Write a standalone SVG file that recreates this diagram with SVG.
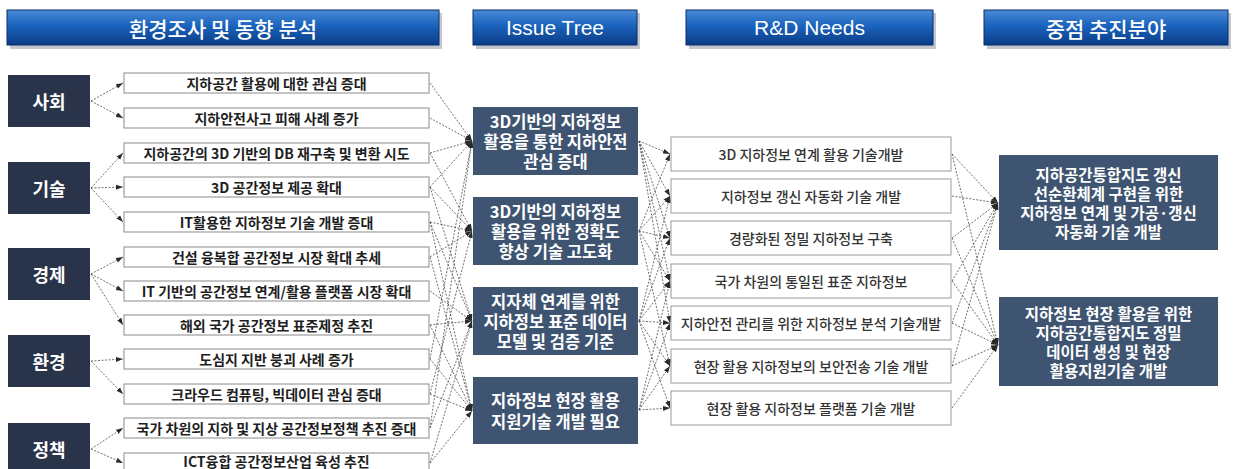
<svg xmlns="http://www.w3.org/2000/svg" width="1234" height="469" viewBox="0 0 1234 469">
<defs>
<linearGradient id="hg" x1="0" y1="0" x2="0" y2="1">
<stop offset="0" stop-color="#4a8ad6"/>
<stop offset="0.45" stop-color="#1a63bd"/>
<stop offset="1" stop-color="#0b3c86"/>
</linearGradient>
<marker id="ah" markerWidth="8" markerHeight="6" refX="7" refY="3" orient="auto" markerUnits="userSpaceOnUse">
<path d="M0,0.5 L7,3 L0,5.5 z" fill="#2a2a2a"/>
</marker>
<style>
.hdr{fill:url(#hg);stroke:#0a2f6a;stroke-width:1}
.hsh{fill:#9aa3ad;opacity:0.6}
.ht{font-family:"Noto Sans CJK KR","Noto Sans",sans-serif;font-size:21px;font-weight:500;fill:#fff;text-anchor:middle;dominant-baseline:central}
.hte{font-family:"Liberation Sans",Arial,sans-serif;font-size:21px;fill:#fff;text-anchor:middle;dominant-baseline:central}
.cat{fill:#29334a}
.ct{font-family:"Noto Sans CJK KR",sans-serif;font-size:18px;font-weight:700;fill:#fff;text-anchor:middle;dominant-baseline:central}
.it{fill:#fff;stroke:#8a8a8a;stroke-width:1}
.itt{font-family:"Noto Sans CJK KR",sans-serif;font-size:14px;font-weight:700;fill:#1e1e1e;text-anchor:middle;dominant-baseline:central}
.iss{fill:#3e5471}
.ist{font-family:"Noto Sans CJK KR",sans-serif;font-size:16.5px;font-weight:700;fill:#fff;text-anchor:middle;dominant-baseline:central}
.rd{fill:#fff;stroke:#9a9a9a;stroke-width:1}
.rdt{font-family:"Noto Sans CJK KR",sans-serif;font-size:14px;font-weight:500;fill:#333;text-anchor:middle;dominant-baseline:central}
.fc{fill:#3e5471}
.fct{font-family:"Noto Sans CJK KR",sans-serif;font-size:15.5px;font-weight:700;fill:#fff;text-anchor:middle;dominant-baseline:central}
.cn line{stroke:#4a4a4a;stroke-width:0.8;stroke-dasharray:2 1.5;fill:none;marker-end:url(#ah)}
</style>
</defs>
<rect width="1234" height="469" fill="#fff"/>

<!-- headers -->
<g id="h1"><rect class="hsh" x="10" y="13" width="432" height="36"/><rect class="hdr" x="7" y="10" width="432" height="35"/><text class="ht" x="223" y="27.5">환경조사 및 동향 분석</text></g>
<g id="h2"><rect class="hsh" x="476" y="13" width="164" height="36"/><rect class="hdr" x="473" y="10" width="164" height="35"/><text class="hte" x="555" y="27.5">Issue Tree</text></g>
<g id="h3"><rect class="hsh" x="689" y="13" width="247" height="36"/><rect class="hdr" x="686" y="10" width="247" height="35"/><text class="hte" x="809.5" y="27.5">R&amp;D Needs</text></g>
<g id="h4"><rect class="hsh" x="987" y="13" width="244" height="36"/><rect class="hdr" x="984" y="10" width="244" height="35"/><text class="ht" x="1106" y="27.5">중점 추진분야</text></g>

<!-- connectors -->
<g id="connectors" class="cn">
<!-- category -> items -->
<line x1="91" y1="101" x2="123" y2="83"/>
<line x1="91" y1="101" x2="123" y2="118"/>
<line x1="91" y1="188" x2="123" y2="153"/>
<line x1="91" y1="188" x2="123" y2="187"/>
<line x1="91" y1="188" x2="123" y2="222"/>
<line x1="91" y1="274" x2="123" y2="257"/>
<line x1="91" y1="274" x2="123" y2="291"/>
<line x1="91" y1="274" x2="123" y2="325"/>
<line x1="91" y1="361" x2="123" y2="359"/>
<line x1="91" y1="361" x2="123" y2="394"/>
<line x1="91" y1="449" x2="123" y2="428"/>
<line x1="91" y1="449" x2="123" y2="463"/>
<!-- items -> issue -->
<line x1="430" y1="83" x2="472" y2="141"/>
<line x1="430" y1="118" x2="472" y2="141"/>
<line x1="430" y1="153" x2="472" y2="141"/>
<line x1="430" y1="187" x2="472" y2="141"/>
<line x1="430" y1="359" x2="472" y2="141"/>
<line x1="430" y1="428" x2="472" y2="141"/>
<line x1="430" y1="153" x2="472" y2="231"/>
<line x1="430" y1="187" x2="472" y2="231"/>
<line x1="430" y1="222" x2="472" y2="231"/>
<line x1="430" y1="257" x2="472" y2="231"/>
<line x1="430" y1="394" x2="472" y2="231"/>
<line x1="430" y1="187" x2="472" y2="321"/>
<line x1="430" y1="222" x2="472" y2="321"/>
<line x1="430" y1="291" x2="472" y2="321"/>
<line x1="430" y1="325" x2="472" y2="321"/>
<line x1="430" y1="428" x2="472" y2="321"/>
<line x1="430" y1="463" x2="472" y2="321"/>
<line x1="430" y1="222" x2="472" y2="411"/>
<line x1="430" y1="257" x2="472" y2="411"/>
<line x1="430" y1="325" x2="472" y2="411"/>
<line x1="430" y1="359" x2="472" y2="411"/>
<line x1="430" y1="394" x2="472" y2="411"/>
<line x1="430" y1="463" x2="472" y2="411"/>
<!-- issue -> R&D -->
<line x1="639" y1="141" x2="670" y2="154"/>
<line x1="639" y1="141" x2="670" y2="196"/>
<line x1="639" y1="141" x2="670" y2="238"/>
<line x1="639" y1="141" x2="670" y2="281"/>
<line x1="639" y1="141" x2="670" y2="323"/>
<line x1="639" y1="231" x2="670" y2="154"/>
<line x1="639" y1="231" x2="670" y2="196"/>
<line x1="639" y1="231" x2="670" y2="238"/>
<line x1="639" y1="231" x2="670" y2="281"/>
<line x1="639" y1="231" x2="670" y2="366"/>
<line x1="639" y1="321" x2="670" y2="196"/>
<line x1="639" y1="321" x2="670" y2="238"/>
<line x1="639" y1="321" x2="670" y2="281"/>
<line x1="639" y1="321" x2="670" y2="323"/>
<line x1="639" y1="321" x2="670" y2="366"/>
<line x1="639" y1="321" x2="670" y2="408"/>
<line x1="639" y1="410" x2="670" y2="281"/>
<line x1="639" y1="410" x2="670" y2="323"/>
<line x1="639" y1="410" x2="670" y2="366"/>
<line x1="639" y1="410" x2="670" y2="408"/>
<!-- R&D -> focus -->
<line x1="952" y1="154" x2="998" y2="203"/>
<line x1="952" y1="196" x2="998" y2="203"/>
<line x1="952" y1="238" x2="998" y2="203"/>
<line x1="952" y1="281" x2="998" y2="203"/>
<line x1="952" y1="323" x2="998" y2="203"/>
<line x1="952" y1="366" x2="998" y2="203"/>
<line x1="952" y1="154" x2="998" y2="345"/>
<line x1="952" y1="238" x2="998" y2="345"/>
<line x1="952" y1="281" x2="998" y2="345"/>
<line x1="952" y1="323" x2="998" y2="345"/>
<line x1="952" y1="366" x2="998" y2="345"/>
<line x1="952" y1="408" x2="998" y2="345"/>
</g>

<!-- categories -->
<g id="c1"><rect class="cat" x="8" y="75" width="82" height="52"/><text class="ct" x="49" y="101">사회</text></g>
<g id="c2"><rect class="cat" x="8" y="162" width="82" height="52"/><text class="ct" x="49" y="188">기술</text></g>
<g id="c3"><rect class="cat" x="8" y="248" width="82" height="52"/><text class="ct" x="49" y="274">경제</text></g>
<g id="c4"><rect class="cat" x="8" y="335" width="82" height="52"/><text class="ct" x="49" y="361">환경</text></g>
<g id="c5"><rect class="cat" x="8" y="423" width="82" height="52"/><text class="ct" x="49" y="449">정책</text></g>

<!-- items -->
<g id="i1"><rect class="it" x="124" y="73" width="305" height="20"/><text class="itt" x="276.5" y="83">지하공간 활용에 대한 관심 증대</text></g>
<g id="i2"><rect class="it" x="124" y="108" width="305" height="20"/><text class="itt" x="276.5" y="118">지하안전사고 피해 사례 증가</text></g>
<g id="i3"><rect class="it" x="124" y="143" width="305" height="20"/><text class="itt" x="276.5" y="153">지하공간의 3D 기반의 DB 재구축 및 변환 시도</text></g>
<g id="i4"><rect class="it" x="124" y="177" width="305" height="20"/><text class="itt" x="276.5" y="187">3D 공간정보 제공 확대</text></g>
<g id="i5"><rect class="it" x="124" y="212" width="305" height="20"/><text class="itt" x="276.5" y="222">IT활용한 지하정보 기술 개발 증대</text></g>
<g id="i6"><rect class="it" x="124" y="247" width="305" height="20"/><text class="itt" x="276.5" y="257">건설 융복합 공간정보 시장 확대 추세</text></g>
<g id="i7"><rect class="it" x="124" y="281" width="305" height="20"/><text class="itt" x="276.5" y="291">IT 기반의 공간정보 연계/활용 플랫폼 시장 확대</text></g>
<g id="i8"><rect class="it" x="124" y="315" width="305" height="20"/><text class="itt" x="276.5" y="325">해외 국가 공간정보 표준제정 추진</text></g>
<g id="i9"><rect class="it" x="124" y="349" width="305" height="20"/><text class="itt" x="276.5" y="359">도심지 지반 붕괴 사례 증가</text></g>
<g id="i10"><rect class="it" x="124" y="384" width="305" height="20"/><text class="itt" x="276.5" y="394">크라우드 컴퓨팅, 빅데이터 관심 증대</text></g>
<g id="i11"><rect class="it" x="124" y="418" width="305" height="20"/><text class="itt" x="276.5" y="428">국가 차원의 지하 및 지상 공간정보정책 추진 증대</text></g>
<g id="i12"><rect class="it" x="124" y="453" width="305" height="20"/><text class="itt" x="276.5" y="461">ICT융합 공간정보산업 육성 추진</text></g>

<!-- issue tree -->
<g id="t1"><rect class="iss" x="473" y="107" width="165" height="68"/><text class="ist" x="555.5" y="121">3D기반의 지하정보</text><text class="ist" x="555.5" y="141">활용을 통한 지하안전</text><text class="ist" x="555.5" y="161">관심 증대</text></g>
<g id="t2"><rect class="iss" x="473" y="197" width="165" height="68"/><text class="ist" x="555.5" y="211">3D기반의 지하정보</text><text class="ist" x="555.5" y="231">활용을 위한 정확도</text><text class="ist" x="555.5" y="251">향상 기술 고도화</text></g>
<g id="t3"><rect class="iss" x="473" y="287" width="165" height="68"/><text class="ist" x="555.5" y="301">지자체 연계를 위한</text><text class="ist" x="555.5" y="321">지하정보 표준 데이터</text><text class="ist" x="555.5" y="341">모델 및 검증 기준</text></g>
<g id="t4"><rect class="iss" x="473" y="377" width="165" height="67"/><text class="ist" x="555.5" y="400">지하정보 현장 활용</text><text class="ist" x="555.5" y="421">지원기술 개발 필요</text></g>

<!-- R&D needs -->
<g id="r1"><rect class="rd" x="671" y="137" width="280" height="34"/><text class="rdt" x="811" y="154">3D 지하정보 연계 활용 기술개발</text></g>
<g id="r2"><rect class="rd" x="671" y="179" width="280" height="34"/><text class="rdt" x="811" y="196">지하정보 갱신 자동화 기술 개발</text></g>
<g id="r3"><rect class="rd" x="671" y="221" width="280" height="34"/><text class="rdt" x="811" y="238">경량화된 정밀 지하정보 구축</text></g>
<g id="r4"><rect class="rd" x="671" y="264" width="280" height="34"/><text class="rdt" x="811" y="281">국가 차원의 통일된 표준 지하정보</text></g>
<g id="r5"><rect class="rd" x="671" y="306" width="280" height="34"/><text class="rdt" x="811" y="323">지하안전 관리를 위한 지하정보 분석 기술개발</text></g>
<g id="r6"><rect class="rd" x="671" y="349" width="280" height="34"/><text class="rdt" x="811" y="366">현장 활용 지하정보의 보안전송 기술 개발</text></g>
<g id="r7"><rect class="rd" x="671" y="391" width="280" height="34"/><text class="rdt" x="811" y="408">현장 활용 지하정보 플랫폼 기술 개발</text></g>

<!-- focus areas -->
<g id="f1"><rect class="fc" x="999" y="155" width="219" height="95"/><text class="fct" x="1108.5" y="174">지하공간통합지도 갱신</text><text class="fct" x="1108.5" y="193">선순환체계 구현을 위한</text><text class="fct" x="1108.5" y="212">지하정보 연계 및 가공·갱신</text><text class="fct" x="1108.5" y="231">자동화 기술 개발</text></g>
<g id="f2"><rect class="fc" x="999" y="297" width="219" height="89"/><text class="fct" x="1108.5" y="313">지하정보 현장 활용을 위한</text><text class="fct" x="1108.5" y="332">지하공간통합지도 정밀</text><text class="fct" x="1108.5" y="351">데이터 생성 및 현장</text><text class="fct" x="1108.5" y="370">활용지원기술 개발</text></g>
</svg>
